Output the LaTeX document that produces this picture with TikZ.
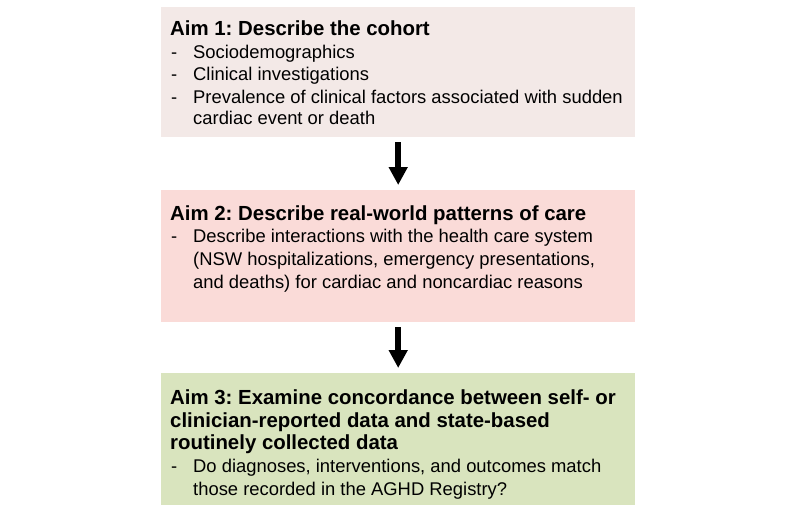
\documentclass[tikz,border=0pt]{standalone}
\usepackage{fontspec}
\setmainfont{Liberation Sans}
\usetikzlibrary{arrows.meta}
\definecolor{boxA}{HTML}{F3E9E7}
\definecolor{boxB}{HTML}{FADBD8}
\definecolor{boxC}{HTML}{D9E4BE}
\frenchspacing
\begin{document}
\begin{tikzpicture}[x=1pt,y=-1pt,
  aimbox/.style={rectangle, draw=none, minimum width=474pt, anchor=north west, inner sep=0pt},
  aimtitle/.style={anchor=base west, inner sep=0pt, font=\fontsize{20.4}{24}\selectfont\bfseries},
  aimtext/.style={anchor=base west, inner sep=0pt, font=\fontsize{18.4}{22}\selectfont},
  flowarrow/.style={line width=6pt, -{Triangle[width=18pt,length=18pt]}, shorten <=5pt, shorten >=5pt}
]
\useasboundingbox (0,0) rectangle (800,511);
% boxes
\node[aimbox, fill=boxA, minimum height=130pt] (b1) at (161,7) {};
\node[aimbox, fill=boxB, minimum height=132pt] (b2) at (161,190) {};
\node[aimbox, fill=boxC, minimum height=132pt] (b3) at (161,373) {};
% box 1 text
\node[aimtitle] (t1) at (170,36) {Aim 1: Describe the cohort};
\node[aimtext] (d1a) at (171,59) {-};
\node[aimtext] (l1a) at (193,59) {Sociodemographics};
\node[aimtext] (d1b) at (171,81) {-};
\node[aimtext] (l1b) at (193,81) {Clinical investigations};
\node[aimtext] (d1c) at (171,103) {-};
\node[aimtext] (l1c) at (193,103) {Prevalence of clinical factors associated with sudden};
\node[aimtext] (l1d) at (193,124) {cardiac event or death};
% box 2 text
\node[aimtitle] (t2) at (170,220) {Aim 2: Describe real-world patterns of care};
\node[aimtext] (d2a) at (171,242) {-};
\node[aimtext] (l2a) at (193,242) {Describe interactions with the health care system};
\node[aimtext] (l2b) at (193,265) {(NSW hospitalizations, emergency presentations,};
\node[aimtext] (l2c) at (193,288) {and deaths) for cardiac and noncardiac reasons};
% box 3 text
\node[aimtitle] (t3a) at (170,404) {Aim 3: Examine concordance between self- or};
\node[aimtitle] (t3b) at (170,427) {clinician-reported data and state-based};
\node[aimtitle] (t3c) at (170,449) {routinely collected data};
\node[aimtext] (d3a) at (171,472) {-};
\node[aimtext] (l3a) at (193,472) {Do diagnoses, interventions, and outcomes match};
\node[aimtext] (l3b) at (193,495) {those recorded in the AGHD Registry?};
% arrows
\draw[flowarrow] (b1.south) -- (b2.north);
\draw[flowarrow] (b2.south) -- (b3.north);
\end{tikzpicture}
\end{document}
